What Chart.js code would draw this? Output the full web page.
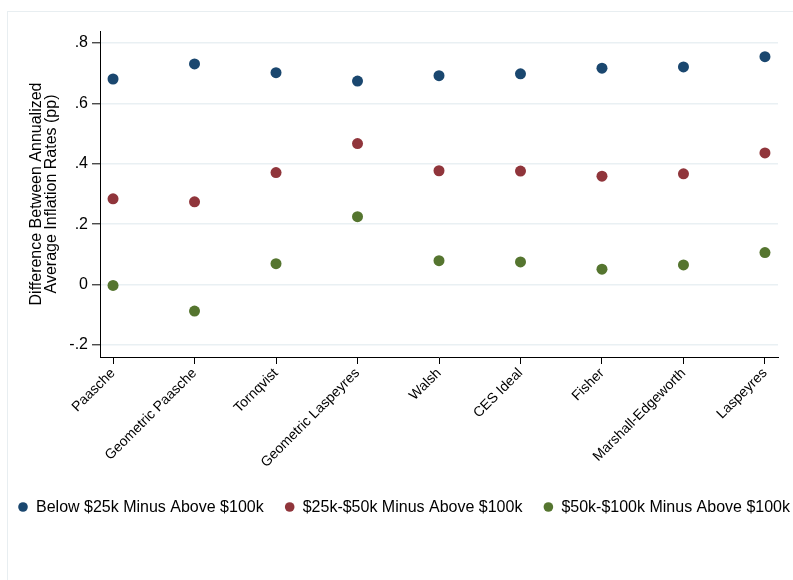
<!DOCTYPE html>
<html><head><meta charset="utf-8">
<script src="https://cdn.jsdelivr.net/npm/chart.js@4"></script>
<style>
html,body{margin:0;padding:0;background:#fff;width:793px;height:580px;overflow:hidden}
#frame{position:absolute;left:7px;top:11px;width:820px;height:620px;border:1px solid #e8eef1;box-sizing:border-box}
#wrap{position:absolute;left:0;top:0;width:793px;height:580px}
</style></head>
<body>
<div id="frame"></div>
<div id="wrap"><canvas id="c" width="793" height="580"></canvas></div>
<script>
const categories = ["Paasche","Geometric Paasche","Tornqvist","Geometric Laspeyres","Walsh","CES Ideal","Fisher","Marshall-Edgeworth","Laspeyres"];
const seriesLabels = ["Below $25k Minus Above $100k","$25k-$50k Minus Above $100k","$50k-$100k Minus Above $100k"];
const below25k = [0.681,0.731,0.702,0.674,0.692,0.698,0.717,0.721,0.755];
const from25to50k = [0.284,0.274,0.371,0.467,0.377,0.376,0.359,0.367,0.436];
const from50to100k = [-0.003,-0.088,0.069,0.225,0.079,0.075,0.051,0.065,0.106];
const yTickValues = [-0.2,0,0.2,0.4,0.6,0.8];
const yTickLabels = ["-.2","0",".2",".4",".6",".8"];
const yTitle = ["Difference Between Annualized","Average Inflation Rates (pp)"];

const colors = ["#1a476f","#90353b","#55752f"];
const FONT = "Liberation Sans";
const series = [below25k, from25to50k, from50to100k];

const datasets = series.map((vals, k) => ({
  label: seriesLabels[k],
  data: vals.map((v, i) => ({x: i, y: v})),
  backgroundColor: colors[k],
  borderColor: colors[k],
  borderWidth: 0,
  pointRadius: 5.5,
  pointHoverRadius: 5.5,
  showLine: false
}));

const legendPlugin = {
  id: 'customLegend',
  afterDraw(chart) {
    const ctx = chart.ctx;
    ctx.save();
    ctx.font = "16px '" + FONT + "'";
    ctx.textBaseline = 'middle';
    ctx.textAlign = 'left';
    let x = 23;
    const y = 508;
    chart.data.datasets.forEach((ds) => {
      ctx.fillStyle = ds.backgroundColor;
      ctx.beginPath();
      ctx.arc(x, y - 1, 4.8, 0, Math.PI * 2);
      ctx.fill();
      ctx.fillStyle = '#000';
      const tx = x + 13;
      ctx.fillText(ds.label, tx, y);
      x = tx + ctx.measureText(ds.label).width + 26;
    });
    ctx.restore();
  }
};

new Chart(document.getElementById('c'), {
  type: 'scatter',
  data: { datasets },
  plugins: [legendPlugin],
  options: {
    responsive: false,
    animation: false,
    layout: { padding: { left: 0, right: 15, top: 31, bottom: 83 } },
    plugins: { legend: { display: false }, tooltip: { enabled: false } },
    scales: {
      x: {
        type: 'linear',
        min: -0.16, max: 8.16,
        afterBuildTicks: s => { s.ticks = categories.map((_, i) => ({value: i})); },
        afterFit: s => { s.height = 140; },
        ticks: {
          autoSkip: false,
          minRotation: 45, maxRotation: 45,
          padding: 1,
          color: '#000',
          font: { family: FONT, size: 14 },
          callback: v => categories[v]
        },
        grid: { drawOnChartArea: false, tickLength: 7, tickColor: '#000', tickWidth: 1 },
        border: { display: true, color: '#000', width: 1 }
      },
      y: {
        min: -0.24, max: 0.84,
        afterBuildTicks: s => { s.ticks = yTickValues.map(v => ({value: v})); },
        afterFit: s => { s.width = 100; },
        ticks: {
          padding: 4,
          color: '#000',
          font: { family: FONT, size: 16 },
          callback: v => { const i = yTickValues.findIndex(t => Math.abs(t - v) < 1e-9); return i >= 0 ? yTickLabels[i] : ''; }
        },
        grid: { color: '#e9f0f3', lineWidth: 1.6, tickLength: 8, tickColor: '#000', tickWidth: 1 },
        border: { display: true, color: '#000', width: 1 },
        title: {
          display: true,
          text: yTitle,
          color: '#000',
          font: { family: FONT, size: 16, lineHeight: 0.95 },
          padding: { top: 29, bottom: 6 }
        }
      }
    }
  }
});
</script>
</body></html>
